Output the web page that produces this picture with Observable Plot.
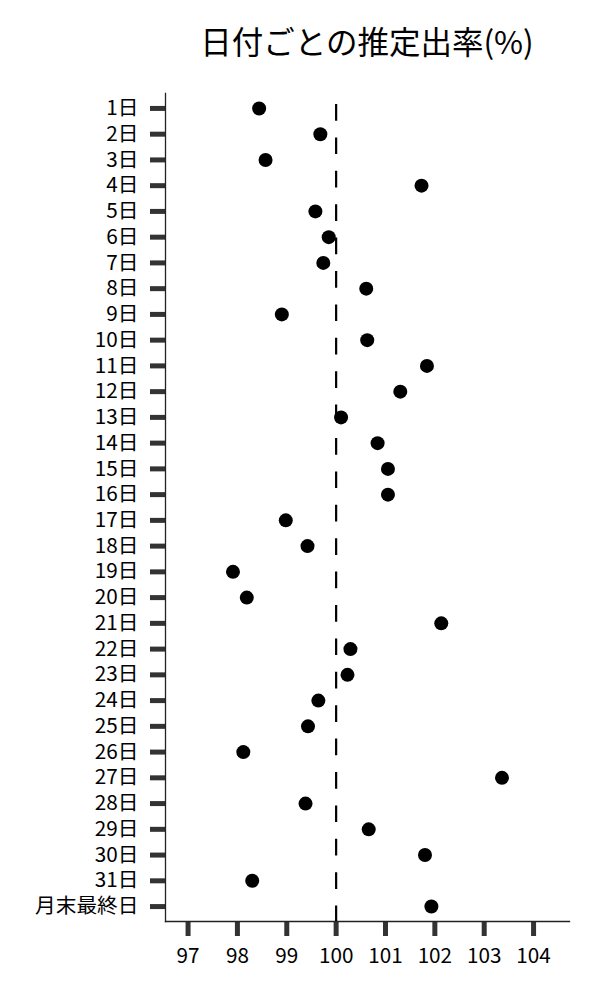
<!DOCTYPE html>
<html><head><meta charset="utf-8">
<script src="https://cdn.jsdelivr.net/npm/d3@7"></script>
<script src="https://cdn.jsdelivr.net/npm/@observablehq/plot@0.6"></script>
<style>
body{margin:0;background:#fff;}
#title{height:80px;line-height:80px;margin-left:165px;width:404px;text-align:center;font-family:"Noto Sans CJK JP";font-size:31.5px;color:#000;white-space:nowrap;}
</style></head><body>
<div id="title">日付ごとの推定出率(%)</div>
<div id="chart"></div>
<script>
const days = ["1日","2日","3日","4日","5日","6日","7日","8日","9日","10日","11日","12日","13日","14日","15日","16日","17日","18日","19日","20日","21日","22日","23日","24日","25日","26日","27日","28日","29日","30日","31日","月末最終日"];
const rates = [98.44, 99.68, 98.57, 101.73, 99.58, 99.85, 99.74, 100.61, 98.90, 100.63, 101.84, 101.30, 100.10, 100.84, 101.05, 101.05, 98.98, 99.42, 97.91, 98.19, 102.13, 100.29, 100.23, 99.64, 99.43, 98.12, 103.36, 99.38, 100.66, 101.80, 98.30, 101.93];
const xTicks = [97, 98, 99, 100, 101, 102, 103, 104];
const refValue = [100];
const data = days.map((d, i) => ({day: d, rate: rates[i]}));
const chart = Plot.plot({
  width: 600, height: 920,
  marginTop: 13, marginBottom: 79, marginLeft: 165, marginRight: 31,
  style: {fontFamily: '"Noto Sans CJK JP"', fontSize: "20.7px", background: "#fff", color: "#000"},
  x: {domain: [96.543, 104.728], axis: null},
  y: {type: "point", domain: days, padding: 0.58, round: false, axis: null},
  marks: [
    Plot.axisX({ticks: xTicks, tickSize: 15, tickPadding: 12, strokeWidth: 5, stroke: "#333", fill: "#000", fontSize: 20.7, label: null, tickFormat: d => String(d)}),
    Plot.axisY({tickSize: 15, tickPadding: 12, strokeWidth: 5, stroke: "#333", fill: "#000", fontSize: 20.7, label: null}),
    Plot.frame({anchor: "left", stroke: "#222", strokeWidth: 1.3}),
    Plot.frame({anchor: "bottom", stroke: "#222", strokeWidth: 1.3}),
    Plot.ruleX(refValue, {stroke: "#000", strokeWidth: 2.2, strokeDasharray: "16.7,16.7", insetTop: 11}),
    Plot.dot(data, {x: "rate", y: "day", r: 7, fill: "#000"})
  ]
});
chart.style.display = "block";
document.getElementById("chart").appendChild(chart);
</script>
</body></html>
